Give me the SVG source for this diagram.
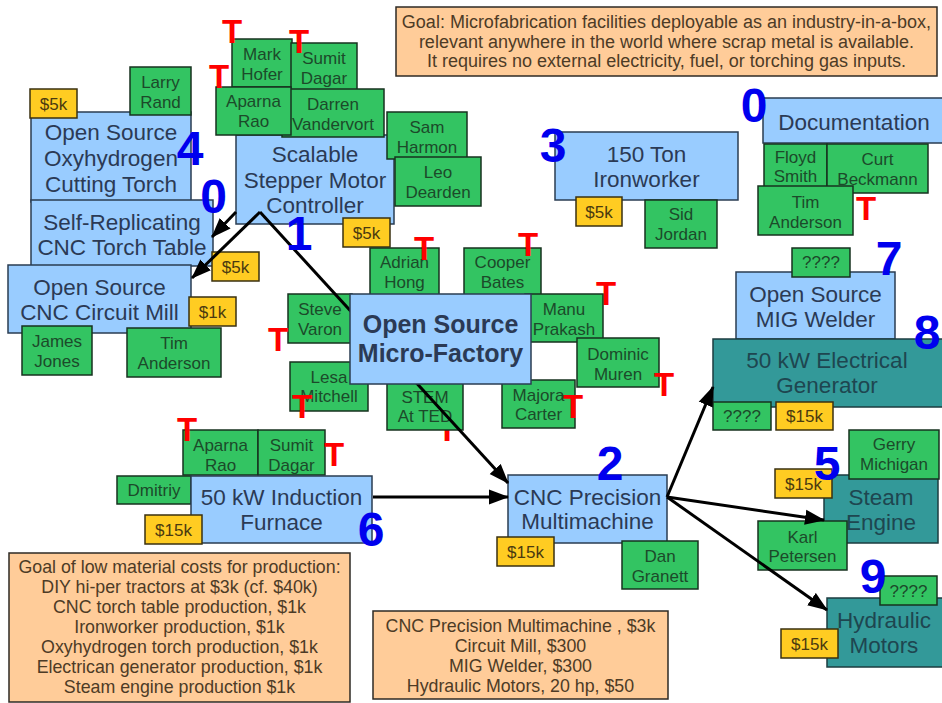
<svg xmlns="http://www.w3.org/2000/svg" width="942" height="703" viewBox="0 0 942 703">
<defs>
<marker id="ah" markerUnits="userSpaceOnUse" markerWidth="20" markerHeight="16" refX="19" refY="8" orient="auto">
<path d="M0,0.5 L20,8 L0,15.5 z" fill="#000"/>
</marker>
<style>
text{font-family:"Liberation Sans",Arial,sans-serif;text-anchor:middle}
.blue{fill:#99ccff;stroke:#2a3c52;stroke-width:1.5}
.teal{fill:#339999;stroke:#1d3d40;stroke-width:1.5}
.green{fill:#33c462;stroke:#17321f;stroke-width:1.5}
.yel{fill:#ffcc22;stroke:#3a3010;stroke-width:1.5}
.org{fill:#ffcc99;stroke:#2e2a25;stroke-width:1.5}
.bt{font-size:22.5px;fill:#2b3a55}
.tt{font-size:22.5px;fill:#1e4650}
.mf{font-size:25px;font-weight:bold;fill:#2b3a55}
.gt{font-size:17px;fill:#1c4a2a}
.yt{font-size:17px;fill:#4a3a10}
.ot{font-size:17.8px;fill:#4d3b26}
.num{font-size:48px;font-weight:bold;fill:#0000ee}
.T{font-size:33px;font-weight:bold;fill:#ff0000}
.conn path{fill:none;stroke:#000;stroke-width:3;marker-end:url(#ah)}
</style>
</defs>
<rect width="942" height="703" fill="#fff"/>

<g id="goal-top">
<rect class="org" x="396" y="7" width="541" height="69"/>
<text class="ot" x="666.5" y="28" style="font-size:18px">Goal: Microfabrication facilities deployable as an industry-in-a-box,</text>
<text class="ot" x="666.5" y="48" style="font-size:18px">relevant anywhere in the world where scrap metal is available.</text>
<text class="ot" x="666.5" y="67" style="font-size:18px">It requires no external electricity, fuel, or torching gas inputs.</text>
</g>

<g id="torch">
<rect class="blue" x="31" y="112" width="160" height="90"/>
<text class="bt" x="111" y="140">Open Source</text>
<text class="bt" x="111" y="166">Oxyhydrogen</text>
<text class="bt" x="111" y="192">Cutting Torch</text>
</g>
<g id="larry"><rect class="green" x="130" y="67" width="61" height="48"/><text class="gt" x="160.5" y="88">Larry</text><text class="gt" x="160.5" y="108">Rand</text></g>
<g id="cost-torch"><rect class="yel" x="30" y="89" width="47" height="29"/><text class="yt" x="53.5" y="110">$5k</text></g>

<g id="torch-table">
<rect class="blue" x="31" y="200" width="182" height="66"/>
<text class="bt" x="122" y="230">Self-Replicating</text>
<text class="bt" x="122" y="255">CNC Torch Table</text>
</g>
<g id="circuit-mill">
<rect class="blue" x="8" y="265" width="183" height="68"/>
<text class="bt" x="99.5" y="295">Open Source</text>
<text class="bt" x="99.5" y="320">CNC Circuit Mill</text>
</g>
<g id="cost-table"><rect class="yel" x="212" y="252" width="47" height="29"/><text class="yt" x="235.5" y="273">$5k</text></g>
<g id="cost-mill"><rect class="yel" x="189" y="297" width="47" height="29"/><text class="yt" x="212.5" y="318">$1k</text></g>
<g id="james"><rect class="green" x="22" y="326" width="70" height="49"/><text class="gt" x="57" y="347">James</text><text class="gt" x="57" y="367">Jones</text></g>
<g id="tim-mill"><rect class="green" x="127" y="328" width="94" height="49"/><text class="gt" x="174" y="349">Tim</text><text class="gt" x="174" y="369">Anderson</text></g>

<g id="stepper">
<rect class="blue" x="236" y="135" width="158" height="89"/>
<text class="bt" x="315" y="162">Scalable</text>
<text class="bt" x="315" y="188">Stepper Motor</text>
<text class="bt" x="315" y="213">Controller</text>
</g>
<g id="mark"><rect class="green" x="232" y="39" width="60" height="48"/><text class="gt" x="262" y="60">Mark</text><text class="gt" x="262" y="80">Hofer</text></g>
<g id="sumit1"><rect class="green" x="291" y="43" width="66" height="49"/><text class="gt" x="324" y="64">Sumit</text><text class="gt" x="324" y="84">Dagar</text></g>
<g id="darren"><rect class="green" x="282" y="89" width="102" height="48"/><text class="gt" x="333" y="110">Darren</text><text class="gt" x="333" y="130">Vandervort</text></g>
<g id="aparna1"><rect class="green" x="216" y="87" width="75" height="48"/><text class="gt" x="253.5" y="107">Aparna</text><text class="gt" x="253.5" y="127">Rao</text></g>
<g id="sam"><rect class="green" x="387" y="112" width="80" height="47"/><text class="gt" x="427" y="133">Sam</text><text class="gt" x="427" y="153">Harmon</text></g>
<g id="leo"><rect class="green" x="395" y="157" width="86" height="49"/><text class="gt" x="438" y="178">Leo</text><text class="gt" x="438" y="198">Dearden</text></g>
<g id="cost-stepper"><rect class="yel" x="343" y="218" width="47" height="29"/><text class="yt" x="366.5" y="239">$5k</text></g>

<g id="ironworker">
<rect class="blue" x="555" y="132" width="183" height="68"/>
<text class="bt" x="646.5" y="162">150 Ton</text>
<text class="bt" x="646.5" y="187">Ironworker</text>
</g>
<g id="cost-iron"><rect class="yel" x="576" y="197" width="46" height="29"/><text class="yt" x="599" y="218">$5k</text></g>
<g id="sid"><rect class="green" x="645" y="200" width="72" height="48"/><text class="gt" x="681" y="220">Sid</text><text class="gt" x="681" y="240">Jordan</text></g>

<g id="documentation">
<rect class="blue" x="763" y="98" width="182" height="45"/>
<text class="bt" x="854" y="130">Documentation</text>
</g>
<g id="floyd"><rect class="green" x="764" y="144" width="63" height="46"/><text class="gt" x="795.5" y="163">Floyd</text><text class="gt" x="795.5" y="182">Smith</text></g>
<g id="curt"><rect class="green" x="827" y="144" width="101" height="49"/><text class="gt" x="877.5" y="165">Curt</text><text class="gt" x="877.5" y="185">Beckmann</text></g>
<g id="tim-doc"><rect class="green" x="758" y="186" width="95" height="49"/><text class="gt" x="805.5" y="208">Tim</text><text class="gt" x="805.5" y="228">Anderson</text></g>

<g id="adrian"><rect class="green" x="370" y="248" width="69" height="48"/><text class="gt" x="404.5" y="268">Adrian</text><text class="gt" x="404.5" y="288">Hong</text></g>
<g id="cooper"><rect class="green" x="464" y="248" width="77" height="48"/><text class="gt" x="502.5" y="268">Cooper</text><text class="gt" x="502.5" y="288">Bates</text></g>
<g id="steve"><rect class="green" x="288" y="294" width="64" height="49"/><text class="gt" x="320" y="315">Steve</text><text class="gt" x="320" y="335">Varon</text></g>
<g id="manu"><rect class="green" x="525" y="294" width="78" height="48"/><text class="gt" x="564" y="315">Manu</text><text class="gt" x="564" y="335">Prakash</text></g>
<g id="dominic"><rect class="green" x="577" y="338" width="82" height="49"/><text class="gt" x="618" y="360">Dominic</text><text class="gt" x="618" y="380">Muren</text></g>
<g id="lesa"><rect class="green" x="290" y="362" width="78" height="49"/><text class="gt" x="329" y="383">Lesa</text><text class="gt" x="329" y="402">Mitchell</text></g>
<text class="T" x="447" y="441">T</text>
<g id="stem"><rect class="green" x="387" y="378" width="76" height="52"/><text class="gt" x="425" y="403">STEM</text><text class="gt" x="425" y="422">At TED</text></g>
<g id="majora"><rect class="green" x="502" y="380" width="73" height="48"/><text class="gt" x="538.5" y="401">Majora</text><text class="gt" x="538.5" y="420">Carter</text></g>

<g id="mig">
<rect class="blue" x="736" y="272" width="159" height="67"/>
<text class="bt" x="815.5" y="302">Open Source</text>
<text class="bt" x="815.5" y="327">MIG Welder</text>
</g>
<g id="mig-q"><rect class="green" x="792" y="248" width="58" height="29"/><text class="gt" x="821" y="268">????</text></g>
<g id="generator">
<rect class="teal" x="713" y="339" width="230" height="68"/>
<text class="tt" x="827" y="368">50 kW Electrical</text>
<text class="tt" x="827" y="393">Generator</text>
</g>
<g id="gen-q"><rect class="green" x="713" y="402" width="58" height="28"/><text class="gt" x="742" y="422">????</text></g>
<g id="cost-gen"><rect class="yel" x="776" y="402" width="57" height="28"/><text class="yt" x="804.5" y="422">$15k</text></g>

<g id="aparna2"><rect class="green" x="183" y="430" width="75" height="45"/><text class="gt" x="220.5" y="451">Aparna</text><text class="gt" x="220.5" y="471">Rao</text></g>
<g id="sumit2"><rect class="green" x="258" y="430" width="67" height="45"/><text class="gt" x="291.5" y="451">Sumit</text><text class="gt" x="291.5" y="471">Dagar</text></g>
<g id="dmitriy"><rect class="green" x="117" y="476" width="74" height="28"/><text class="gt" x="154" y="496">Dmitriy</text></g>
<g id="furnace">
<rect class="blue" x="191" y="476" width="181" height="67"/>
<text class="bt" x="281.5" y="505">50 kW Induction</text>
<text class="bt" x="281.5" y="530">Furnace</text>
</g>
<g id="cost-furnace"><rect class="yel" x="145" y="515" width="57" height="29"/><text class="yt" x="173.5" y="536">$15k</text></g>

<g id="multimachine">
<rect class="blue" x="508" y="475" width="159" height="68"/>
<text class="bt" x="587.5" y="505">CNC Precision</text>
<text class="bt" x="587.5" y="529">Multimachine</text>
</g>
<g id="cost-multi"><rect class="yel" x="497" y="537" width="57" height="29"/><text class="yt" x="525.5" y="558">$15k</text></g>
<g id="dan"><rect class="green" x="622" y="541" width="76" height="48"/><text class="gt" x="660" y="562">Dan</text><text class="gt" x="660" y="582">Granett</text></g>

<g id="steam">
<rect class="teal" x="824" y="475" width="114" height="68"/>
<text class="tt" x="881" y="505">Steam</text>
<text class="tt" x="881" y="530">Engine</text>
</g>
<g id="gerry"><rect class="green" x="849" y="430" width="90" height="49"/><text class="gt" x="894" y="450">Gerry</text><text class="gt" x="894" y="470">Michigan</text></g>
<g id="cost-steam"><rect class="yel" x="775" y="469" width="57" height="29"/><text class="yt" x="803.5" y="490">$15k</text></g>
<g id="karl"><rect class="green" x="758" y="521" width="89" height="49"/><text class="gt" x="802.5" y="543">Karl</text><text class="gt" x="802.5" y="562">Petersen</text></g>

<g id="hydraulic">
<rect class="teal" x="827" y="598" width="116" height="69"/>
<text class="tt" x="884" y="628">Hydraulic</text>
<text class="tt" x="884" y="653">Motors</text>
</g>
<g id="hyd-q"><rect class="green" x="880" y="576" width="57" height="29"/><text class="gt" x="908.5" y="597">????</text></g>
<g id="cost-hyd"><rect class="yel" x="781" y="629" width="57" height="29"/><text class="yt" x="809.5" y="650">$15k</text></g>

<g id="goal-costs">
<rect class="org" x="9" y="553" width="341" height="149"/>
<text class="ot" x="179.5" y="573">Goal of low material costs for production:</text>
<text class="ot" x="179.5" y="593">DIY hi-per tractors at $3k (cf. $40k)</text>
<text class="ot" x="179.5" y="613">CNC torch table production, $1k</text>
<text class="ot" x="179.5" y="633">Ironworker production, $1k</text>
<text class="ot" x="179.5" y="653">Oxyhydrogen torch production, $1k</text>
<text class="ot" x="179.5" y="673">Electrican generator production, $1k</text>
<text class="ot" x="179.5" y="693">Steam engine production $1k</text>
</g>
<g id="machine-costs">
<rect class="org" x="373" y="611" width="295" height="88"/>
<text class="ot" x="520.5" y="632">CNC Precision Multimachine , $3k</text>
<text class="ot" x="520.5" y="652">Circuit Mill, $300</text>
<text class="ot" x="520.5" y="672">MIG Welder, $300</text>
<text class="ot" x="520.5" y="692">Hydraulic Motors, 20 hp, $50</text>
</g>

<g id="connectors" class="conn">
<path d="M236,212 L212,237"/>
<path d="M260,212 L192,278"/>
<path d="M260,212 L508,483"/>
<path d="M373,497 L508,497"/>
<path d="M667,497 L713,387"/>
<path d="M667,497 L824,520"/>
<path d="M667,497 L827,610"/>
</g>

<g id="micro-factory">
<rect class="blue" x="350" y="294" width="181" height="90"/>
<text class="mf" x="440.5" y="333">Open Source</text>
<text class="mf" x="440.5" y="362">Micro-Factory</text>
</g>

<g id="numbers">
<text class="num" x="190" y="165">4</text>
<text class="num" x="213.5" y="213">0</text>
<text class="num" x="299" y="250">1</text>
<text class="num" x="553" y="162">3</text>
<text class="num" x="754" y="122">0</text>
<text class="num" x="889" y="275">7</text>
<text class="num" x="927" y="349">8</text>
<text class="num" x="610" y="480">2</text>
<text class="num" x="827" y="480">5</text>
<text class="num" x="371" y="546">6</text>
<text class="num" x="873" y="593">9</text>
</g>
<g id="t-marks">
<text class="T" x="232" y="43">T</text>
<text class="T" x="299" y="53">T</text>
<text class="T" x="219" y="88">T</text>
<text class="T" x="866" y="220">T</text>
<text class="T" x="424" y="260">T</text>
<text class="T" x="528" y="256">T</text>
<text class="T" x="606" y="305">T</text>
<text class="T" x="278" y="351">T</text>
<text class="T" x="664" y="396">T</text>
<text class="T" x="573" y="418">T</text>
<text class="T" x="302" y="418">T</text>
<text class="T" x="187" y="441">T</text>
<text class="T" x="334" y="466">T</text>
</g>
</svg>
